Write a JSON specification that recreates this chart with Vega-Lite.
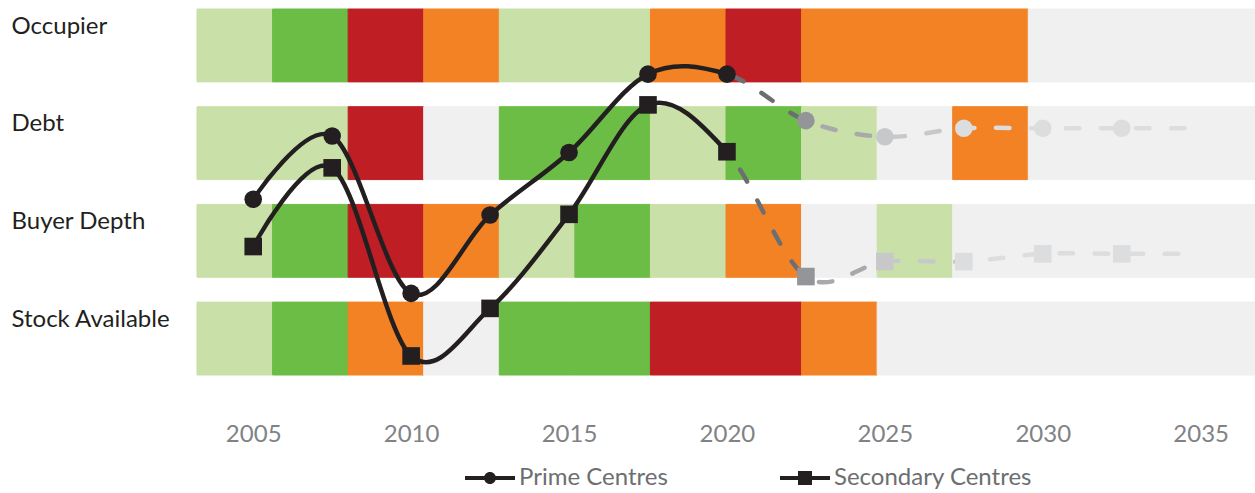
{
  "$schema": "https://vega.github.io/schema/vega-lite/v6.json",
  "width": 1058,
  "height": 366,
  "autosize": {"type": "none"},
  "padding": {"left": 197, "top": 9, "right": 0, "bottom": 118},
  "config": {"view": {"stroke": null}, "font": "Lato"},
  "datasets": {
    "cells": [
      {"row": "Occupier", "col": 1, "rating": "Positive"},
      {"row": "Occupier", "col": 2, "rating": "Strong positive"},
      {"row": "Occupier", "col": 3, "rating": "Strong negative"},
      {"row": "Occupier", "col": 4, "rating": "Negative"},
      {"row": "Occupier", "col": 5, "rating": "Positive"},
      {"row": "Occupier", "col": 6, "rating": "Positive"},
      {"row": "Occupier", "col": 7, "rating": "Negative"},
      {"row": "Occupier", "col": 8, "rating": "Strong negative"},
      {"row": "Occupier", "col": 9, "rating": "Negative"},
      {"row": "Occupier", "col": 10, "rating": "Negative"},
      {"row": "Occupier", "col": 11, "rating": "Negative"},
      {"row": "Occupier", "col": 12, "rating": "No view"},
      {"row": "Occupier", "col": 13, "rating": "No view"},
      {"row": "Occupier", "col": 14, "rating": "No view"},
      {"row": "Debt", "col": 1, "rating": "Positive"},
      {"row": "Debt", "col": 2, "rating": "Positive"},
      {"row": "Debt", "col": 3, "rating": "Strong negative"},
      {"row": "Debt", "col": 4, "rating": "No view"},
      {"row": "Debt", "col": 5, "rating": "Strong positive"},
      {"row": "Debt", "col": 6, "rating": "Strong positive"},
      {"row": "Debt", "col": 7, "rating": "Positive"},
      {"row": "Debt", "col": 8, "rating": "Strong positive"},
      {"row": "Debt", "col": 9, "rating": "Positive"},
      {"row": "Debt", "col": 10, "rating": "No view"},
      {"row": "Debt", "col": 11, "rating": "Negative"},
      {"row": "Debt", "col": 12, "rating": "No view"},
      {"row": "Debt", "col": 13, "rating": "No view"},
      {"row": "Debt", "col": 14, "rating": "No view"},
      {"row": "Buyer Depth", "col": 1, "rating": "Positive"},
      {"row": "Buyer Depth", "col": 2, "rating": "Strong positive"},
      {"row": "Buyer Depth", "col": 3, "rating": "Strong negative"},
      {"row": "Buyer Depth", "col": 4, "rating": "Negative"},
      {"row": "Buyer Depth", "col": 5, "rating": "Positive"},
      {"row": "Buyer Depth", "col": 6, "rating": "Strong positive"},
      {"row": "Buyer Depth", "col": 7, "rating": "Positive"},
      {"row": "Buyer Depth", "col": 8, "rating": "Negative"},
      {"row": "Buyer Depth", "col": 9, "rating": "No view"},
      {"row": "Buyer Depth", "col": 10, "rating": "Positive"},
      {"row": "Buyer Depth", "col": 11, "rating": "No view"},
      {"row": "Buyer Depth", "col": 12, "rating": "No view"},
      {"row": "Buyer Depth", "col": 13, "rating": "No view"},
      {"row": "Buyer Depth", "col": 14, "rating": "No view"},
      {"row": "Stock Available", "col": 1, "rating": "Positive"},
      {"row": "Stock Available", "col": 2, "rating": "Strong positive"},
      {"row": "Stock Available", "col": 3, "rating": "Negative"},
      {"row": "Stock Available", "col": 4, "rating": "No view"},
      {"row": "Stock Available", "col": 5, "rating": "Strong positive"},
      {"row": "Stock Available", "col": 6, "rating": "Strong positive"},
      {"row": "Stock Available", "col": 7, "rating": "Strong negative"},
      {"row": "Stock Available", "col": 8, "rating": "Strong negative"},
      {"row": "Stock Available", "col": 9, "rating": "Negative"},
      {"row": "Stock Available", "col": 10, "rating": "No view"},
      {"row": "Stock Available", "col": 11, "rating": "No view"},
      {"row": "Stock Available", "col": 12, "rating": "No view"},
      {"row": "Stock Available", "col": 13, "rating": "No view"},
      {"row": "Stock Available", "col": 14, "rating": "No view"}
    ],
    "series": [
      {"series": "Prime Centres", "year": 2005, "score": 48.0, "phase": "Historic"},
      {"series": "Prime Centres", "year": 2007.5, "score": 65.3, "phase": "Historic"},
      {"series": "Prime Centres", "year": 2010, "score": 22.3, "phase": "Historic"},
      {"series": "Prime Centres", "year": 2012.5, "score": 43.7, "phase": "Historic"},
      {"series": "Prime Centres", "year": 2015, "score": 60.8, "phase": "Historic"},
      {"series": "Prime Centres", "year": 2017.5, "score": 82.2, "phase": "Historic"},
      {"series": "Prime Centres", "year": 2020, "score": 82.2, "phase": "Historic"},
      {"series": "Prime Centres", "year": 2022.5, "score": 69.5, "phase": "Forecast 1"},
      {"series": "Prime Centres", "year": 2025, "score": 65.1, "phase": "Forecast 2"},
      {"series": "Prime Centres", "year": 2027.5, "score": 67.4, "phase": "Forecast 3"},
      {"series": "Prime Centres", "year": 2030, "score": 67.4, "phase": "Forecast 3"},
      {"series": "Prime Centres", "year": 2032.5, "score": 67.4, "phase": "Forecast 3"},
      {"series": "Prime Centres", "year": 2034.7, "score": 67.4, "phase": "Extension"},
      {"series": "Secondary Centres", "year": 2005, "score": 35.1, "phase": "Historic"},
      {"series": "Secondary Centres", "year": 2007.5, "score": 56.6, "phase": "Historic"},
      {"series": "Secondary Centres", "year": 2010, "score": 5.2, "phase": "Historic"},
      {"series": "Secondary Centres", "year": 2012.5, "score": 18.2, "phase": "Historic"},
      {"series": "Secondary Centres", "year": 2015, "score": 43.9, "phase": "Historic"},
      {"series": "Secondary Centres", "year": 2017.5, "score": 73.8, "phase": "Historic"},
      {"series": "Secondary Centres", "year": 2020, "score": 61.0, "phase": "Historic"},
      {"series": "Secondary Centres", "year": 2022.5, "score": 26.9, "phase": "Forecast 1"},
      {"series": "Secondary Centres", "year": 2025, "score": 31.0, "phase": "Forecast 2"},
      {"series": "Secondary Centres", "year": 2027.5, "score": 31.0, "phase": "Forecast 3"},
      {"series": "Secondary Centres", "year": 2030, "score": 33.1, "phase": "Forecast 3"},
      {"series": "Secondary Centres", "year": 2032.5, "score": 33.1, "phase": "Forecast 3"},
      {"series": "Secondary Centres", "year": 2034.7, "score": 33.1, "phase": "Extension"}
    ]
  },
  "layer": [
    {
      "data": {"name": "cells"},
      "mark": {"type": "rect", "strokeWidth": 1},
      "encoding": {
        "x": {"field": "col", "type": "ordinal", "scale": {"paddingInner": 0, "paddingOuter": 0}, "axis": null},
        "y": {
          "field": "row", "type": "nominal",
          "sort": ["Occupier", "Debt", "Buyer Depth", "Stock Available"],
          "scale": {"paddingInner": 0.254, "paddingOuter": 0},
          "axis": {
            "title": null, "domain": false, "ticks": false, "tickSize": 0,
            "labelAlign": "left", "labelPadding": 186, "labelBaseline": "alphabetic",
            "labelOffset": -11.7, "labelFont": "Lato", "labelFontSize": 24,
            "labelColor": "#231f20", "labelLimit": 0
          }
        },
        "color": {
          "field": "rating", "type": "nominal",
          "scale": {"domain": ["Strong positive", "Positive", "Negative", "Strong negative", "No view"], "range": ["#6bbd45", "#c9e1a8", "#f28224", "#be1e24", "#f0f0f0"]},
          "legend": null
        },
        "stroke": {
          "field": "rating", "type": "nominal",
          "scale": {"domain": ["Strong positive", "Positive", "Negative", "Strong negative", "No view"], "range": ["#6bbd45", "#c9e1a8", "#f28224", "#be1e24", "#f0f0f0"]},
          "legend": null
        }
      }
    },
    {
      "data": {"name": "series"},
      "encoding": {
        "x": {
          "field": "year", "type": "quantitative",
          "scale": {"domain": [2003.22, 2036.72], "nice": false, "zero": false},
          "axis": {
            "title": null, "values": [2005, 2010, 2015, 2020, 2025, 2030, 2035], "format": "d",
            "domain": false, "ticks": false, "tickSize": 0, "grid": false,
            "labelFont": "Lato", "labelFontSize": 24, "labelColor": "#808285",
            "labelPadding": 66.5, "labelBaseline": "alphabetic", "labelFlush": false
          }
        },
        "y": {"field": "score", "type": "quantitative", "scale": {"domain": [0, 100], "nice": false, "zero": false}, "axis": null}
      },
      "layer": [
        {
          "mark": {
            "type": "line", "interpolate": "cardinal", "strokeWidth": 4.5, "strokeCap": "round",
            "stroke": {"gradient": "linear", "x1": 0, "y1": 0, "x2": 1, "y2": 0,
              "stops": [
                {"offset": 0, "color": "#231f20"},
                {"offset": 0.5051, "color": "#231f20"},
                {"offset": 0.5051, "color": "rgba(35,31,32,0)"},
                {"offset": 1, "color": "rgba(35,31,32,0)"}
              ]}
          },
          "encoding": {"detail": {"field": "series", "type": "nominal"}}
        },
        {
          "mark": {
            "type": "line", "interpolate": "cardinal", "strokeWidth": 4.5, "strokeCap": "round",
            "strokeDash": [13.5, 21.5],
            "stroke": {"gradient": "linear", "x1": 0, "y1": 0, "x2": 1, "y2": 0,
              "stops": [
                {"offset": 0, "color": "rgba(109,110,113,0)"},
                {"offset": 0.5051, "color": "rgba(109,110,113,0)"},
                {"offset": 0.5051, "color": "#6d6e71"},
                {"offset": 0.5892, "color": "#6d6e71"},
                {"offset": 0.5892, "color": "#a7a9ac"},
                {"offset": 0.6734, "color": "#a7a9ac"},
                {"offset": 0.6734, "color": "#c7c8ca"},
                {"offset": 0.7576, "color": "#c7c8ca"},
                {"offset": 0.7576, "color": "#dcdddf"},
                {"offset": 1, "color": "#dcdddf"}
              ]}
          },
          "encoding": {"detail": {"field": "series", "type": "nominal"}}
        },
        {
          "transform": [{"filter": "datum.phase !== 'Extension'"}],
          "mark": {"type": "point", "filled": true, "size": 310, "opacity": 1, "strokeWidth": 0},
          "encoding": {
            "color": {
              "field": "phase", "type": "nominal",
              "scale": {"domain": ["Historic", "Forecast 1", "Forecast 2", "Forecast 3"], "range": ["#231f20", "#939598", "#c7c8ca", "#dcdddf"]},
              "legend": null
            },
            "shape": {
              "field": "series", "type": "nominal",
              "scale": {"domain": ["Prime Centres", "Secondary Centres"], "range": ["circle", "square"]},
              "legend": null
            }
          }
        },
        {
          "transform": [{"filter": "datum.phase !== 'Extension'"}],
          "mark": {"type": "point", "filled": true, "opacity": 0, "color": "#231f20"},
          "encoding": {
            "shape": {
              "field": "series", "type": "nominal",
              "scale": {
                "domain": ["Prime Centres", "Secondary Centres"],
                "range": [
                  "M-2.5,-0.2L2.5,-0.2L2.5,0.2L-2.5,0.2ZM-0.6,0A0.6,0.6,0,1,1,0.6,0A0.6,0.6,0,1,1,-0.6,0Z",
                  "M-2.5,-0.2L2.5,-0.2L2.5,0.2L-2.5,0.2ZM-0.7,-0.7L0.7,-0.7L0.7,0.7L-0.7,0.7Z"
                ]
              },
              "legend": {
                "title": null, "orient": "none", "direction": "horizontal",
                "legendX": 281, "legendY": 457,
                "symbolSize": 400, "symbolStrokeWidth": 0, "symbolOpacity": 1,
                "symbolFillColor": "#231f20",
                "labelOffset": 17, "columnPadding": 112, "labelLimit": 0,
                "labelFont": "Lato", "labelFontSize": 24, "labelColor": "#6d6e71"
              }
            }
          }
        }
      ],
      "resolve": {"scale": {"shape": "independent"}}
    }
  ],
  "resolve": {"scale": {"x": "independent", "y": "independent", "color": "independent"}}
}
